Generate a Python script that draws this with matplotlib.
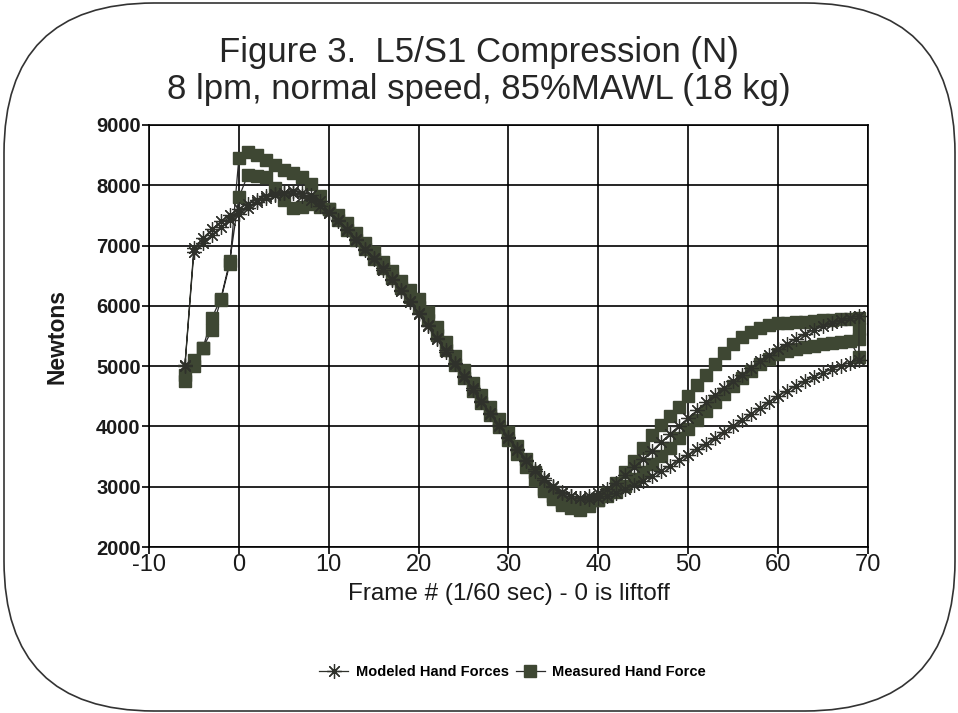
import matplotlib
matplotlib.use("Agg")
import matplotlib.pyplot as plt
from matplotlib.patches import FancyBboxPatch

plt.rcParams["font.family"] = ["Liberation Sans", "DejaVu Sans"]
plt.rcParams["axes.unicode_minus"] = False

# Frames for the lift (forward) and lower (return) part of each loop
frames_out = list(range(-6, 70))
frames_back = list(range(69, -7, -1))

modeled_out = [
    5000, 6900, 7050, 7180, 7300, 7420, 7530, 7630, 7720, 7790, 7840, 7880,
    7900, 7880, 7840, 7740, 7560, 7420, 7270, 7110, 6950, 6790, 6620, 6450,
    6270, 6080, 5880, 5680, 5470, 5260, 5050, 4840, 4630, 4420, 4220, 4020,
    3820, 3630, 3450, 3290, 3140, 3020, 2920, 2850, 2810, 2800, 2820, 2850,
    2900, 2960, 3030, 3100, 3180, 3260, 3350, 3440, 3530, 3620, 3710, 3810,
    3910, 4010, 4110, 4210, 4310, 4410, 4500, 4590, 4670, 4750, 4820, 4890,
    4950, 5010, 5060, 5110,
]
modeled_back = [
    5840, 5800, 5760, 5710, 5660, 5600, 5530, 5450, 5370, 5280, 5180, 5080,
    4970, 4860, 4750, 4640, 4520, 4400, 4270, 4140, 4010, 3880, 3740, 3600,
    3460, 3320, 3190, 3070, 2970, 2890, 2840, 2820, 2840, 2900, 2990, 3110,
    3260, 3430, 3610, 3800, 4000, 4200, 4400, 4610, 4820, 5030, 5240, 5450,
    5660, 5860, 6060, 6250, 6430, 6600, 6770, 6930, 7090, 7250, 7400, 7540,
    7660, 7760, 7830, 7870, 7880, 7860, 7820, 7760, 7690, 7610, 7510, 7400,
    7270, 7120, 6960, 5020,
]

measured_out = [
    4750, 5100, 5300, 5600, 6100, 6700, 8450, 8550, 8500, 8420, 8340, 8260,
    8200, 8140, 8020, 7830, 7600, 7420, 7260, 7100, 6940, 6780, 6620, 6460,
    6300, 6140, 5980, 5760, 5520, 5270, 5020, 4800, 4590, 4390, 4190, 3990,
    3770, 3550, 3330, 3110, 2930, 2800, 2700, 2640, 2620, 2680, 2780, 2900,
    3060, 3240, 3430, 3650, 3850, 4020, 4180, 4330, 4500, 4680, 4860, 5040,
    5210, 5360, 5480, 5570, 5640, 5690, 5710, 5720, 5730, 5740, 5750, 5760,
    5770, 5780, 5790, 5800,
]
measured_back = [
    5150, 5420, 5400, 5380, 5360, 5340, 5320, 5290, 5250, 5200, 5120, 5030,
    4920, 4800, 4670, 4530, 4400, 4250, 4100, 3950, 3800, 3650, 3510, 3380,
    3250, 3130, 3020, 2920, 2840, 2780, 2730, 2700, 2700, 2740, 2840, 2970,
    3250, 3460, 3680, 3900, 4120, 4320, 4520, 4720, 4940, 5160, 5400, 5650,
    5890, 6110, 6260, 6410, 6570, 6730, 6890, 7050, 7210, 7370, 7510, 7600,
    7640, 7690, 7640, 7620, 7750, 7950, 8140, 8160, 8170, 7800, 6750, 6120,
    5800, 5300, 5000, 4850,
]
# extra points stacked at the last frame of the measured loop
end_frames = [69, 69]
end_values = [5620, 5450]

x_ticks = list(range(-10, 71, 10))
y_ticks = list(range(2000, 9001, 1000))

fig = plt.figure(figsize=(9.58, 7.13), dpi=100)
ax = fig.add_axes([0.1555, 0.2328, 0.7505, 0.5919])

olive = "#3e4733"
modeled_x = frames_out + frames_back
modeled_y = modeled_out + modeled_back
measured_x = frames_out + end_frames + frames_back
measured_y = measured_out + end_values + measured_back

ax.plot(modeled_x, modeled_y, color="#2f312b", linewidth=0.9,
        marker=(8, 2, 0), markersize=10.5, markeredgewidth=0.9,
        markeredgecolor="#2f312b", label="Modeled Hand Forces", zorder=4)
ax.plot(measured_x, measured_y, color="#2a2a2a", linewidth=0.9,
        marker="s", markersize=9, markerfacecolor=olive,
        markeredgecolor=olive, label="Measured Hand Force", zorder=3)

ax.set_xlim(-10, 70)
ax.set_ylim(2000, 9000)
ax.set_xticks(x_ticks)
ax.set_yticks(y_ticks)
ax.grid(True, color="black", linewidth=1.2)
ax.set_axisbelow(True)
for s in ax.spines.values():
    s.set_linewidth(1.2)
ax.tick_params(direction="out", length=5, width=1.2, pad=1)
ax.tick_params(axis="x", labelsize=17, pad=0)
ax.tick_params(axis="y", labelsize=14.5)
for lbl in ax.get_xticklabels() + ax.get_yticklabels():
    lbl.set_color("#1a1a1a")
for lbl in ax.get_yticklabels():
    lbl.set_fontweight("bold")

ax.set_xlabel("Frame # (1/60 sec) - 0 is liftoff", fontsize=17.5, labelpad=5,
              color="#1a1a1a")
ax.set_ylabel("Newtons", fontsize=16.5, fontweight="bold", labelpad=20,
              color="#1a1a1a")

fig.text(0.5, 0.926, "Figure 3.  L5/S1 Compression (N)", ha="center",
         va="center", fontsize=25, color="#262626")
fig.text(0.5, 0.874, "8 lpm, normal speed, 85%MAWL (18 kg)", ha="center",
         va="center", fontsize=25, color="#262626")

fig.legend(loc="center", bbox_to_anchor=(0.535, 0.0575), ncol=2, frameon=False,
           prop={"size": 10.5, "weight": "bold"}, handlelength=2.0,
           columnspacing=0.5, handletextpad=0.5)

# rounded outline around the whole figure
border = FancyBboxPatch((0.04, 0.02), 9.51, 7.08,
                        boxstyle="round,pad=0,rounding_size=1.5",
                        transform=fig.dpi_scale_trans, fill=False,
                        edgecolor="#333333", linewidth=1.2)
fig.patches.append(border)

fig.savefig("out.png", dpi=100)
